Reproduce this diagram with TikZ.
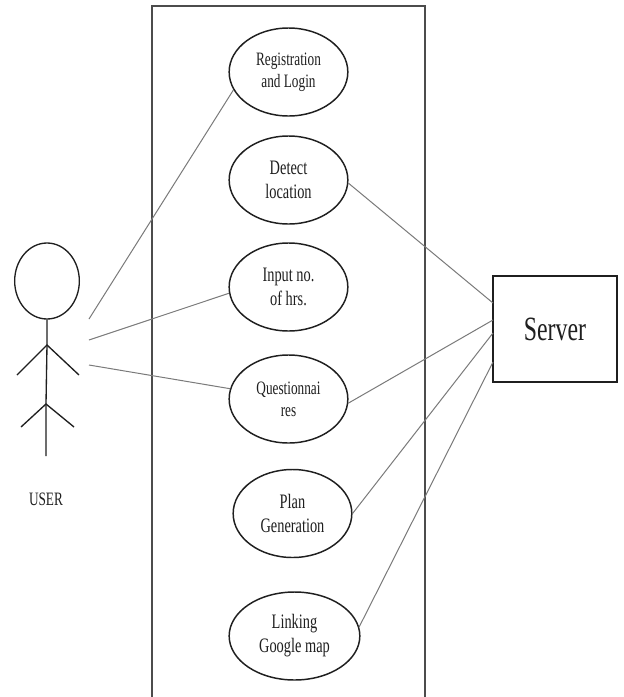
\documentclass[tikz,border=0pt]{standalone}
\usepackage{fontspec}
\setmainfont[FakeStretch=0.7]{Liberation Serif}
\usetikzlibrary{shapes.geometric}
\definecolor{ink}{gray}{0.12}
\definecolor{frameink}{gray}{0.3}
\definecolor{linkink}{gray}{0.48}
\tikzset{
  usecase/.style={draw=ink,line width=1.1pt,ellipse,inner sep=0pt,align=center,text=ink,
    minimum width=89pt,minimum height=66pt},
  smalltext/.style={font=\fontsize{14.2}{16.5}\selectfont},
  largetext/.style={font=\fontsize{15.4}{18}\selectfont},
  actorline/.style={draw=ink,line width=1pt},
  linkline/.style={draw=linkink,line width=0.75pt},
  framebox/.style={draw=frameink,line width=1.2pt},
}
\begin{document}
\begin{tikzpicture}[x=0.75pt,y=-0.75pt]
\useasboundingbox (0,0) rectangle (624,697);
\fill[white] (0,0) rectangle (624,697);
% system frame, open at the bottom edge
\draw[framebox] (152,697) -- (152,6) -- (425,6) -- (425,697);
% use cases
\node[usecase,smalltext] (reg) at (288.5,72) {Registration\\and Login};
\node[usecase,largetext] (det) at (288.5,180) {Detect\\location};
\node[usecase,largetext] (inp) at (288.5,287) {Input no.\\of hrs.};
\node[usecase,smalltext] (que) at (288.5,399) {Questionnai\\res};
\node[usecase,largetext] (pla) at (292.5,513.5) {Plan\\Generation};
\node[usecase,largetext,minimum width=98pt] (lin) at (294.5,636) {Linking\\Google map};
% server
\node[draw=ink,line width=1.1pt,minimum width=93pt,minimum height=79.5pt,inner sep=0pt,text=ink,
  font=\fontsize{25.5}{30}\selectfont] (srv) at (555,329) {Server};
% actor
\node[actorline,ellipse,minimum width=48.5pt,minimum height=57pt,inner sep=0pt] (head) at (47,281) {};
\coordinate (shoulder) at (47,345);
\coordinate (handL) at (17,375);
\coordinate (handR) at (79,375);
\coordinate (hip) at (46,404);
\coordinate (footL) at (21,427);
\coordinate (footR) at (74,427);
\coordinate (tail) at (46,456);
\draw[actorline] (head.south) -- (shoulder) -- (hip) -- (tail);
\draw[actorline] (handL) -- (shoulder) -- (handR);
\draw[actorline] (footL) -- (hip) -- (footR);
\node[text=ink,font=\fontsize{14.2}{18}\selectfont,inner sep=0pt] (user) at (46,499) {USER};
% free ends of the connectors
\coordinate (ua) at (89,319);
\coordinate (ub) at (89,340);
\coordinate (uc) at (89,365);
\coordinate (sa) at (493,303);
\coordinate (sb) at (493,320);
\coordinate (sc) at (493,333);
\coordinate (sd) at (493,362);
% connectors
\draw[linkline] (ua) -- (reg.198);
\draw[linkline] (ub) -- (inp.186);
\draw[linkline] (uc) -- (que.170);
\draw[linkline] (det.-3) -- (sa);
\draw[linkline] (que.-4) -- (sb);
\draw[linkline] (pla.east) -- (sc);
\draw[linkline] (lin.8) -- (sd);
\end{tikzpicture}
\end{document}
